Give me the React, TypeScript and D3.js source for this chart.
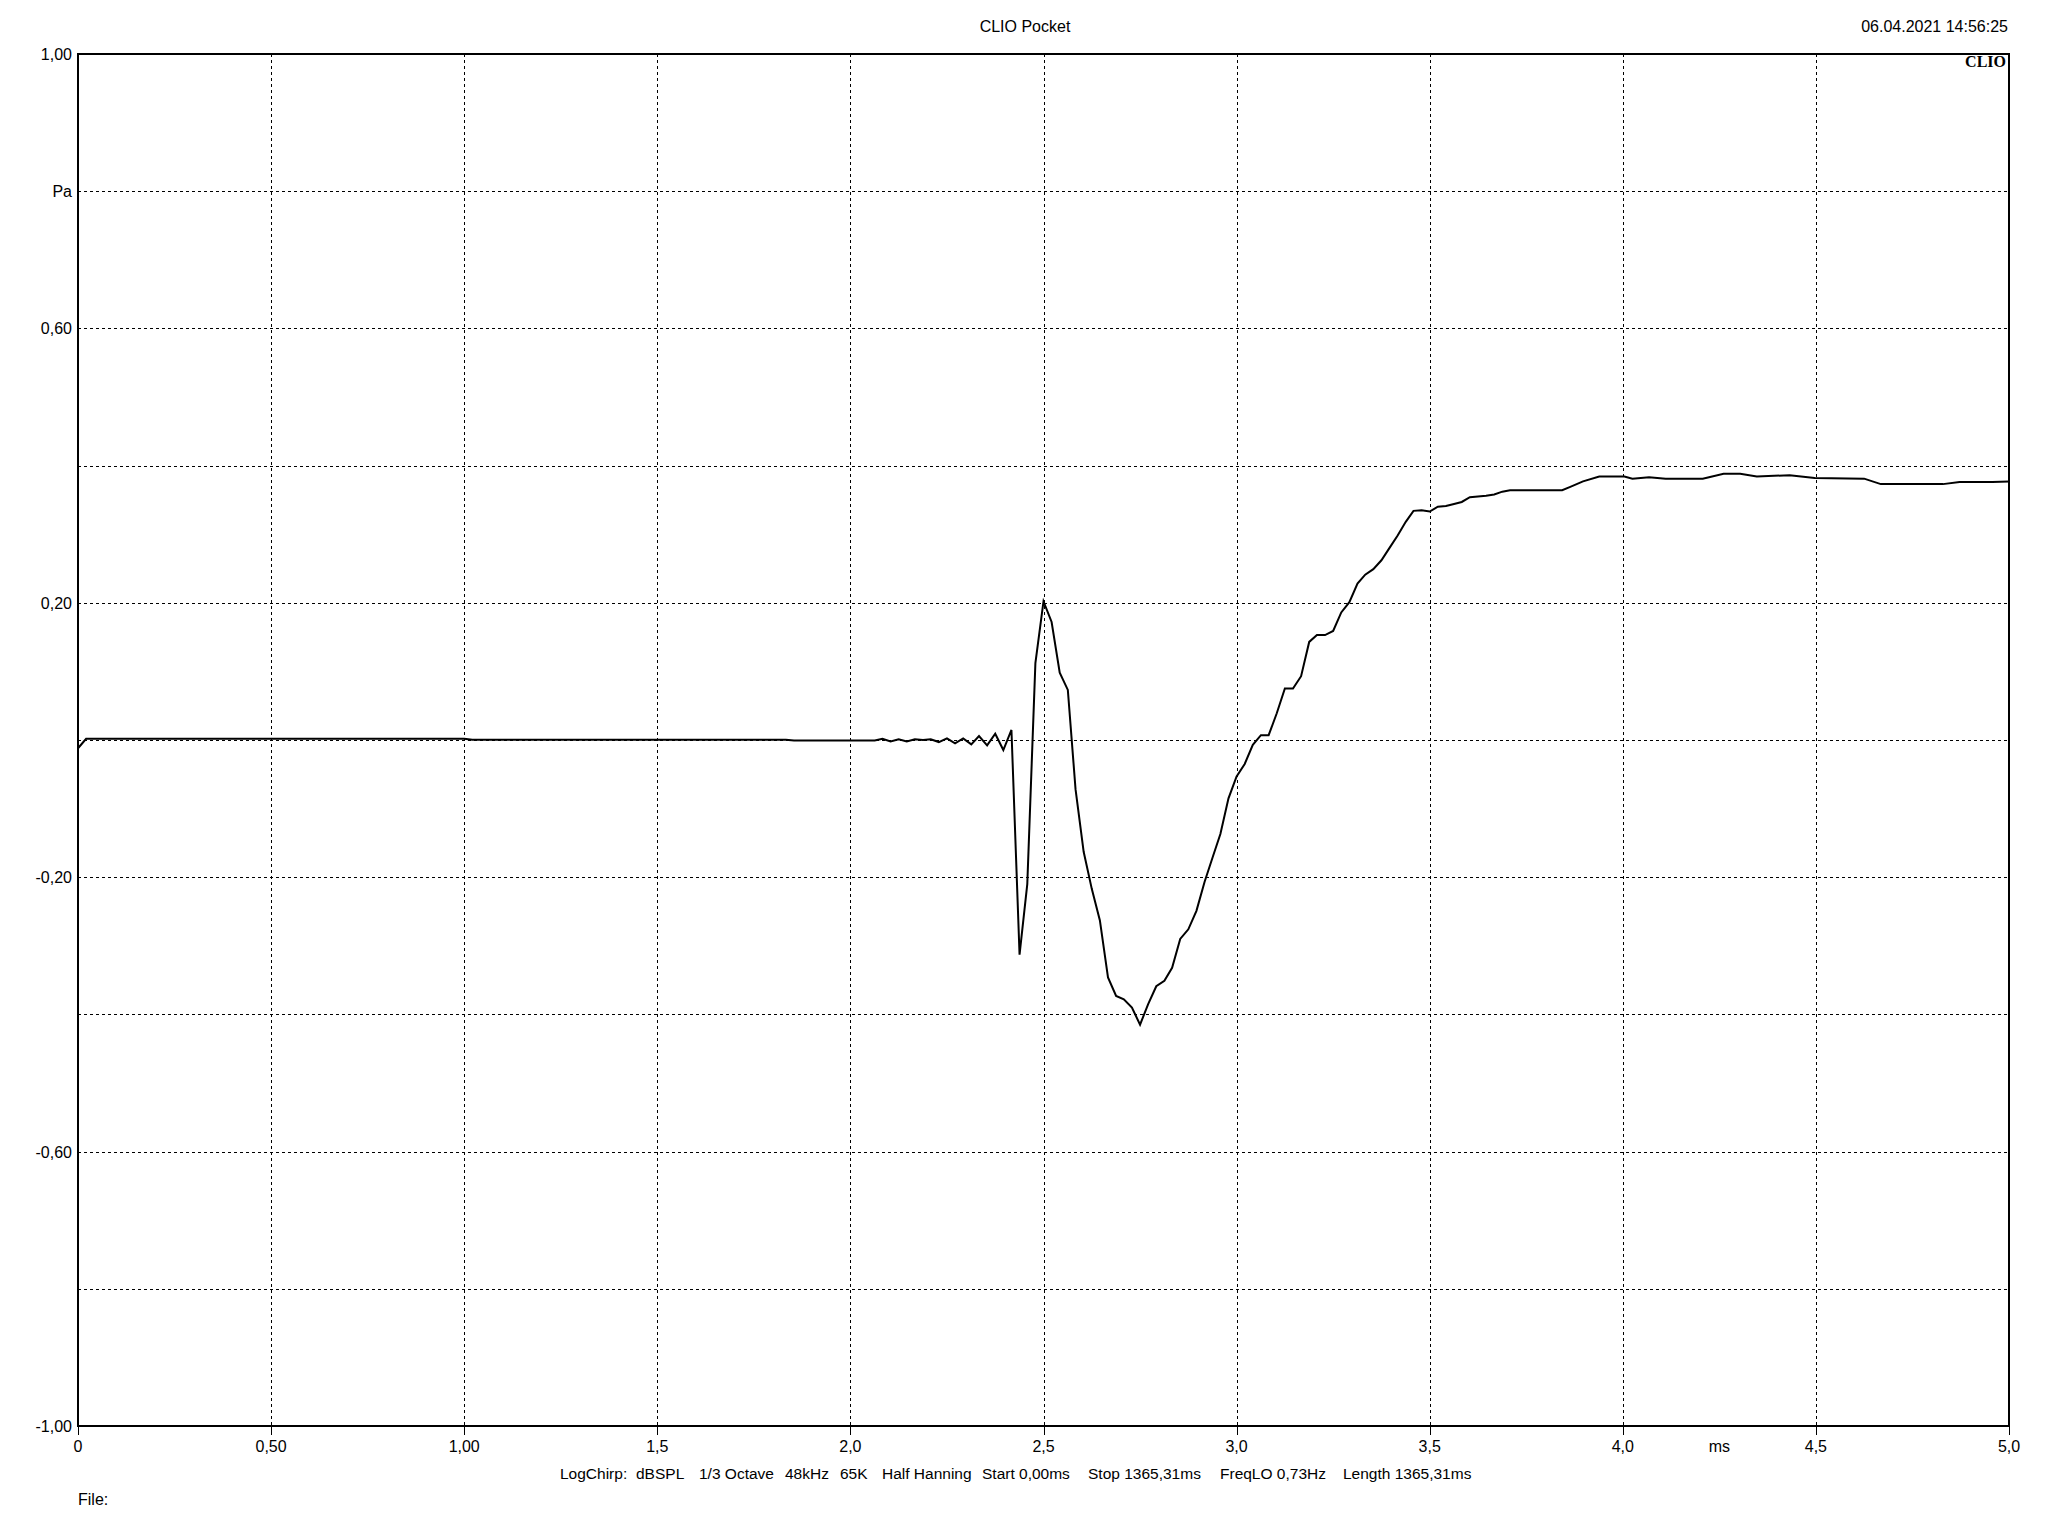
import React from "react";
import * as d3 from "d3";

// ---- data (time in ms, pressure in Pa) ----
const timeMs = [
  0, 0.021, 1.0, 1.021, 1.833, 1.854, 2.063, 2.083, 2.104, 2.125, 2.146, 2.167, 2.188, 2.208,
  2.229, 2.25, 2.271, 2.292, 2.313, 2.333, 2.354, 2.375, 2.396, 2.417, 2.438, 2.458, 2.479,
  2.5, 2.521, 2.542, 2.563, 2.583, 2.604, 2.625, 2.646, 2.667, 2.688, 2.708, 2.729, 2.75,
  2.771, 2.792, 2.813, 2.833, 2.854, 2.875, 2.896, 2.917, 2.938, 2.958, 2.979, 3.0, 3.021,
  3.042, 3.063, 3.083, 3.104, 3.125, 3.146, 3.167, 3.188, 3.208, 3.229, 3.25, 3.271, 3.292,
  3.313, 3.333, 3.354, 3.375, 3.396, 3.417, 3.438, 3.458, 3.479, 3.5, 3.521, 3.542, 3.563,
  3.583, 3.604, 3.625, 3.646, 3.667, 3.688, 3.708, 3.729, 3.843, 3.864, 3.897, 3.939, 4.004,
  4.025, 4.068, 4.111, 4.207, 4.261, 4.304, 4.347, 4.432, 4.497, 4.625, 4.668, 4.829, 4.872,
  4.957, 5.0,
];
const pressurePa = [
  -0.012, 0.0017, 0.0017, 0.0004, 0.0004, -0.0006, -0.0006, 0.0017, -0.002, 0.001, -0.002,
  0.001, 0.0, 0.001, -0.003, 0.0024, -0.005, 0.0024, -0.0063, 0.0058, -0.0078, 0.0092,
  -0.0146, 0.0146, -0.313, -0.21, 0.112,
  0.202, 0.172, 0.098, 0.073, -0.072, -0.163, -0.217, -0.263, -0.346, -0.373, -0.378, -0.39,
  -0.415, -0.385, -0.359, -0.351, -0.332, -0.29, -0.276, -0.249, -0.207, -0.171, -0.137,
  -0.085, -0.053, -0.035, -0.007, 0.007, 0.007, 0.039, 0.075, 0.075, 0.093, 0.143, 0.153,
  0.153, 0.159, 0.186, 0.201, 0.228, 0.241, 0.249, 0.262, 0.28, 0.298, 0.318, 0.334, 0.335,
  0.333, 0.34, 0.341, 0.344, 0.347, 0.354, 0.355, 0.356, 0.358, 0.362, 0.364, 0.364, 0.364,
  0.369, 0.377, 0.384, 0.384, 0.381, 0.383, 0.381, 0.381, 0.388, 0.388, 0.384, 0.386, 0.382,
  0.381, 0.373, 0.373, 0.376, 0.376, 0.377,
];

const xTickValues = [0, 0.5, 1, 1.5, 2, 2.5, 3, 3.5, 4, 4.5, 5];
const xTickLabels = ["0", "0,50", "1,00", "1,5", "2,0", "2,5", "3,0", "3,5", "4,0", "4,5", "5,0"];
const xUnitLabel = "ms";
const xUnitPos = 4.25;

const yTickValues = [-1, -0.8, -0.6, -0.4, -0.2, 0, 0.2, 0.4, 0.6, 0.8, 1];
const yTickLabels = ["-1,00", "", "-0,60", "", "-0,20", "", "0,20", "", "0,60", "Pa", "1,00"];

const title = "CLIO Pocket";
const dateText = "06.04.2021 14:56:25";
const brand = "CLIO";
const footerParts = [
  "LogChirp:",
  "dBSPL",
  "1/3 Octave",
  "48kHz",
  "65K",
  "Half Hanning",
  "Start 0,00ms",
  "Stop 1365,31ms",
  "FreqLO 0,73Hz",
  "Length 1365,31ms",
];
const footerX = [560, 636, 699, 785, 840, 882, 982, 1088, 1220, 1343];
const fileLabel = "File:";

const W = 2048;
const H = 1536;
const L = 78;
const R = 2009;
const T = 54;
const B = 1426;
const FONT = "'Liberation Sans', Arial, sans-serif";

export default function App() {
  const x = d3.scaleLinear().domain([0, 5]).range([L, R]);
  const y = d3.scaleLinear().domain([-1, 1]).range([B, T]);
  const pts = timeMs.map((t, i) => [t, pressurePa[i]] as [number, number]);
  const line = d3
    .line<[number, number]>()
    .x((d) => x(d[0]))
    .y((d) => y(d[1]));

  return (
    <svg
      width={W}
      height={H}
      style={{ position: "absolute", left: 0, top: 0, display: "block", background: "#fff" }}
      fontFamily={FONT}
    >
      <rect x={0} y={0} width={W} height={H} fill="#fff" />
      {/* grid */}
      <g stroke="#000" strokeWidth={1} strokeDasharray="3,3" shapeRendering="crispEdges">
        {xTickValues.slice(1, -1).map((v) => (
          <line key={"gx" + v} x1={Math.round(x(v)) + 0.5} x2={Math.round(x(v)) + 0.5} y1={T} y2={B} />
        ))}
        {yTickValues.slice(1, -1).map((v) => (
          <line key={"gy" + v} x1={L} x2={R} y1={Math.round(y(v)) + 0.5} y2={Math.round(y(v)) + 0.5} />
        ))}
      </g>
      {/* curve */}
      <path d={line(pts) || ""} fill="none" stroke="#000" strokeWidth={2} strokeLinejoin="miter" />
      {/* frame */}
      <rect x={L} y={T} width={R - L} height={B - T} fill="none" stroke="#000" strokeWidth={2} shapeRendering="crispEdges" />
      {/* x ticks */}
      <g stroke="#000" strokeWidth={1} shapeRendering="crispEdges">
        {xTickValues.map((v) => (
          <line key={"tx" + v} x1={Math.round(x(v)) + 0.5} x2={Math.round(x(v)) + 0.5} y1={B} y2={B + 9} />
        ))}
      </g>
      {/* x labels */}
      <g fontSize={16} fill="#000" textAnchor="middle">
        {xTickValues.map((v, i) => (
          <text key={"lx" + v} x={x(v)} y={B + 26}>
            {xTickLabels[i]}
          </text>
        ))}
        <text x={x(xUnitPos)} y={B + 26}>
          {xUnitLabel}
        </text>
      </g>
      {/* y labels */}
      <g fontSize={16} fill="#000" textAnchor="end">
        {yTickValues.map((v, i) =>
          yTickLabels[i] ? (
            <text key={"ly" + v} x={L - 6} y={y(v) + 6}>
              {yTickLabels[i]}
            </text>
          ) : null
        )}
      </g>
      {/* header */}
      <text x={1025} y={32} fontSize={16} textAnchor="middle">
        {title}
      </text>
      <text x={2008} y={32} fontSize={16} textAnchor="end">
        {dateText}
      </text>
      <text x={2006} y={67} fontSize={16} fontWeight="bold" textAnchor="end" fontFamily="'Liberation Serif', 'Times New Roman', serif">
        {brand}
      </text>
      {/* footer */}
      <g fontSize={15.5} fill="#000">
        {footerParts.map((s, i) => (
          <text key={"f" + i} x={footerX[i]} y={1479}>
            {s}
          </text>
        ))}
        <text x={L} y={1505} fontSize={16}>
          {fileLabel}
        </text>
      </g>
    </svg>
  );
}
